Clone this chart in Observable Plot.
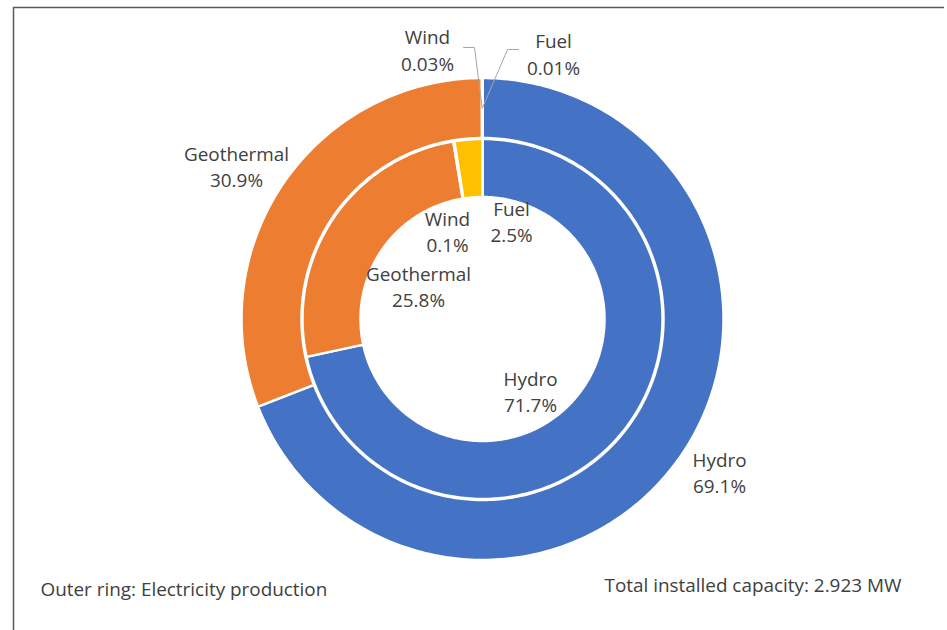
<!DOCTYPE html>
<html>
<head>
<meta charset="utf-8">
<script src="https://cdn.jsdelivr.net/npm/d3@7"></script>
<script src="https://cdn.jsdelivr.net/npm/@observablehq/plot@0.6"></script>
<style>
  html, body { margin: 0; padding: 0; background: #ffffff; }
  #chart svg { display: block; }
</style>
</head>
<body>
<div id="chart"></div>
<script>
// Energy sources: outer ring = electricity production, inner ring = installed capacity
const categories = ["Hydro", "Geothermal", "Wind", "Fuel"];
const colors = ["#4472C4", "#ED7D31", "#A5A5A5", "#FFC000"];
const productionShares = [69.1, 30.9, 0.03, 0.01];   // outer ring, %
const capacityShares = [71.7, 25.8, 0.1, 2.5];       // inner ring, %
const footLeft = "Outer ring: Electricity production";
const footRight = "Total installed capacity: 2.923 MW";

// Layout
const W = 947, H = 630;
const cx = 482, cy = 318.5;
const outerRadii = [181, 241];
const innerRadii = [122, 180];
const ink = "#404040";
const font = "'Segoe UI', 'Open Sans', sans-serif";
const fontSize = 18.9;

const polar = (a, r) => ({x: cx + r * Math.sin(a), y: cy - r * Math.cos(a)});

// Turn shares into closed ring-segment outlines (clockwise from 12 o'clock)
function ringSegments(ring, shares, [r0, r1]) {
  const arcs = d3.pie().sort(null).value(d => d)(shares);
  const rows = [];
  arcs.forEach((a, i) => {
    const id = ring + "-" + categories[i];
    const n = Math.max(2, Math.ceil((a.endAngle - a.startAngle) / (Math.PI / 180)) + 1);
    for (let k = 0; k < n; ++k) {
      const t = a.startAngle + (a.endAngle - a.startAngle) * k / (n - 1);
      rows.push({id, category: categories[i], ...polar(t, r1)});
    }
    for (let k = n - 1; k >= 0; --k) {
      const t = a.startAngle + (a.endAngle - a.startAngle) * k / (n - 1);
      rows.push({id, category: categories[i], ...polar(t, r0)});
    }
  });
  return {rows, arcs};
}

const outer = ringSegments("outer", productionShares, outerRadii);
const inner = ringSegments("inner", capacityShares, innerRadii);
const mid = a => (a.startAngle + a.endAngle) / 2;

// Label anchors (centre of each two-line label)
const labels = [
  {text: `Hydro\n${productionShares[0]}%`, x: 719, y: 471},
  {text: `Geothermal\n${productionShares[1]}%`, x: 236, y: 165},
  {text: `Wind\n${productionShares[2]}%`, x: 427, y: 48.5},
  {text: `Fuel\n${productionShares[3]}%`, x: 553, y: 52.5},
  {text: `Hydro\n${capacityShares[0]}%`, x: 530, y: 390},
  {text: `Geothermal\n${capacityShares[1]}%`, x: 418, y: 285},
  {text: `Wind\n${capacityShares[2]}%`, x: 447, y: 230},
  {text: `Fuel\n${capacityShares[3]}%`, x: 511, y: 220}
];

// Leader lines for the two thin outer slices
const ringMid = (outerRadii[0] + outerRadii[1]) / 2;
const windEnd = polar(mid(outer.arcs[2]), ringMid);
const fuelEnd = polar(mid(outer.arcs[3]), ringMid);
const leaders = [
  {id: "wind", x: 463, y: 47}, {id: "wind", x: 474, y: 47}, {id: "wind", ...windEnd},
  {id: "fuel", x: 518, y: 49}, {id: "fuel", x: 507, y: 49}, {id: "fuel", ...fuelEnd}
];

const chart = Plot.plot({
  width: W,
  height: H,
  margin: 0,
  style: {fontFamily: font, background: "#ffffff"},
  x: {domain: [0, W], range: [0, W], axis: null},
  y: {domain: [0, H], range: [0, H], axis: null},
  color: {domain: categories, range: colors},
  marks: [
    // chart border (top and left edges)
    Plot.ruleY([7], {x1: 13, x2: 944, stroke: "#595959", strokeWidth: 1.5}),
    Plot.ruleX([13], {y1: 7, y2: H, stroke: "#595959", strokeWidth: 1.5}),
    Plot.line(outer.rows, {x: "x", y: "y", z: "id", fill: "category", stroke: "#ffffff", strokeWidth: 2.5, curve: "linear-closed"}),
    Plot.line(inner.rows, {x: "x", y: "y", z: "id", fill: "category", stroke: "#ffffff", strokeWidth: 2.5, curve: "linear-closed"}),
    Plot.line(leaders, {x: "x", y: "y", z: "id", stroke: "#A6A6A6", strokeWidth: 1}),
    Plot.text(labels, {x: "x", y: "y", text: "text", fill: ink, fontSize, lineHeight: 1.4, lineAnchor: "middle", fontFamily: font}),
    Plot.text([footLeft], {x: 40, y: 589, text: d => d, textAnchor: "start", fill: ink, fontSize, fontFamily: font}),
    Plot.text([footRight], {x: 604, y: 585, text: d => d, textAnchor: "start", fill: ink, fontSize, fontFamily: font})
  ]
});

document.getElementById("chart").append(chart);
</script>
</body>
</html>
